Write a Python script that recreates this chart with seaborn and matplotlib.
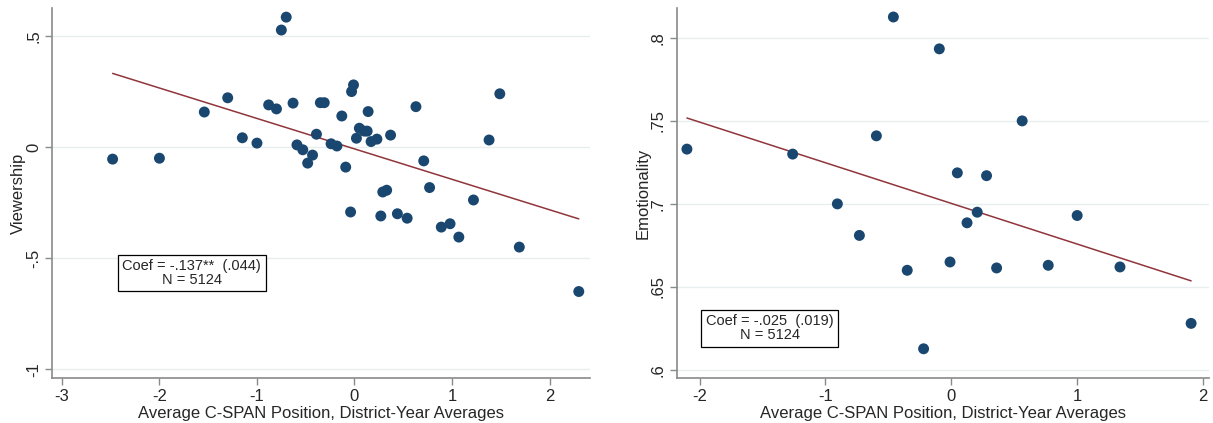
import numpy as np
import pandas as pd
import matplotlib
matplotlib.use('Agg')
import matplotlib.pyplot as plt
import seaborn as sns

# binned scatter: district-year averages
view_x = [-2.48, -2.00, -1.54, -1.30, -1.15, -1.00, -0.88, -0.80, -0.75, -0.70,
          -0.63, -0.59, -0.53, -0.48, -0.43, -0.39, -0.35, -0.31, -0.24, -0.18,
          -0.13, -0.09, -0.04, -0.03, -0.01, 0.02, 0.05, 0.10, 0.13, 0.14,
          0.17, 0.23, 0.27, 0.29, 0.33, 0.37, 0.44, 0.54, 0.63, 0.71,
          0.77, 0.89, 0.98, 1.07, 1.22, 1.38, 1.49, 1.69, 2.30]
view_y = [-0.054, -0.050, 0.158, 0.222, 0.042, 0.018, 0.190, 0.172, 0.527, 0.585,
          0.198, 0.010, -0.012, -0.072, -0.036, 0.058, 0.200, 0.200, 0.015, 0.005,
          0.140, -0.090, -0.292, 0.250, 0.280, 0.040, 0.085, 0.072, 0.072, 0.160,
          0.025, 0.036, -0.310, -0.202, -0.194, 0.054, -0.300, -0.320, 0.182, -0.062,
          -0.182, -0.360, -0.345, -0.405, -0.238, 0.032, 0.240, -0.450, -0.650]
view_coef, view_icept = -0.137, -0.008

emo_x = [-2.10, -1.26, -0.905, -0.73, -0.595, -0.46, -0.35, -0.22, -0.095, -0.01,
         0.048, 0.125, 0.206, 0.28, 0.36, 0.563, 0.77, 1.00, 1.34, 1.905]
emo_y = [0.733, 0.730, 0.700, 0.681, 0.741, 0.8126, 0.660, 0.6127, 0.7934, 0.665,
         0.7187, 0.6886, 0.695, 0.717, 0.6614, 0.750, 0.663, 0.693, 0.662, 0.628]
emo_coef, emo_icept = -0.0245, 0.7003

view_yticks = [-1, -0.5, 0, 0.5]
view_ylabels = ['-1', '-.5', '0', '.5']
emo_yticks = [0.6, 0.65, 0.7, 0.75, 0.8]
emo_ylabels = ['.6', '.65', '.7', '.75', '.8']

sns.set_style('white')
plt.rcParams['font.family'] = ['Liberation Sans', 'DejaVu Sans']

dot_color = '#1a476f'
line_color = '#90353b'
spine_color = '#8a8a8a'

fig = plt.figure(figsize=(12.13, 4.23), dpi=100)
ax1 = fig.add_axes([0.043, 0.106, 0.443, 0.875])
ax2 = fig.add_axes([0.558, 0.106, 0.439, 0.875])


def panel(ax, xs, ys, coef, icept, yticks, ylabels, ylabel, xlim, ylim, xticks, note, note_pos):
    df = pd.DataFrame({'x': xs, 'y': ys})
    xr = np.array([min(xs), max(xs)])
    fit = pd.DataFrame({'x': xr, 'y': icept + coef * xr})
    for yt in yticks:
        ax.axhline(yt, color='#e6eeef', lw=1.0, zorder=0)
    sns.lineplot(data=fit, x='x', y='y', ax=ax, color=line_color, lw=1.1, zorder=2)
    sns.scatterplot(data=df, x='x', y='y', ax=ax, color=dot_color, s=62,
                    edgecolor='none', zorder=3)
    ax.set_xlim(*xlim)
    ax.set_ylim(*ylim)
    ax.set_xticks(xticks)
    ax.set_xticklabels([str(t) for t in xticks], fontsize=12)
    ax.set_yticks(yticks)
    ax.set_yticklabels(ylabels, fontsize=12, rotation=90, va='center')
    ax.set_xlabel('Average C-SPAN Position, District-Year Averages', fontsize=12, labelpad=1)
    ax.set_ylabel(ylabel, fontsize=12, labelpad=0)
    for s in ['top', 'right']:
        ax.spines[s].set_visible(False)
    for s in ['left', 'bottom']:
        ax.spines[s].set_color(spine_color)
        ax.spines[s].set_linewidth(1.2)
    ax.tick_params(axis='both', direction='out', length=5, width=1, color=spine_color,
                   bottom=True, left=True, pad=3)
    ax.text(note_pos[0], note_pos[1], note, transform=ax.transAxes, ha='center',
            va='center', fontsize=10.5, linespacing=1.0,
            bbox=dict(boxstyle='square,pad=0.3', fc='white', ec='black', lw=0.9))


panel(ax1, view_x, view_y, view_coef, view_icept, view_yticks, view_ylabels, 'Viewership',
      (-3.10, 2.41), (-1.04, 0.626), [-3, -2, -1, 0, 1, 2],
      'Coef = -.137**  (.044)\nN = 5124', (0.26, 0.284))
panel(ax2, emo_x, emo_y, emo_coef, emo_icept, emo_yticks, emo_ylabels, 'Emotionality',
      (-2.18, 2.05), (0.595, 0.818), [-2, -1, 0, 1, 2],
      'Coef = -.025  (.019)\nN = 5124', (0.174, 0.135))

fig.savefig('out.png', dpi=100)
